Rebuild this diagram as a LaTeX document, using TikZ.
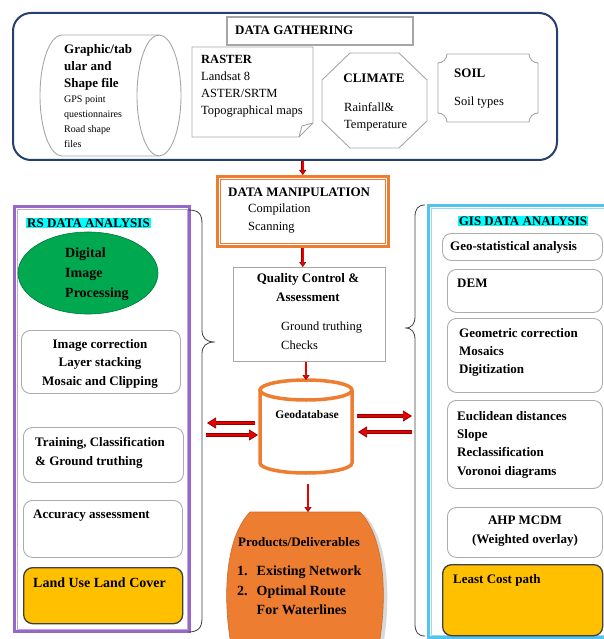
\documentclass[tikz,border=0pt]{standalone}
\usepackage{fontspec}
\setmainfont{Liberation Serif}
\usetikzlibrary{arrows.meta,shapes.geometric}

\definecolor{navy}{RGB}{38,62,112}
\definecolor{orng}{RGB}{237,125,49}
\definecolor{purp}{RGB}{150,105,200}
\definecolor{skyb}{RGB}{85,195,240}
\definecolor{grn}{RGB}{0,168,80}
\definecolor{gold}{RGB}{255,192,0}
\definecolor{hlcyan}{RGB}{0,255,255}
\definecolor{arrred}{RGB}{235,0,0}
\definecolor{arrdark}{RGB}{140,0,0}

\begin{document}
\begin{tikzpicture}[x=1pt, y=-1pt,
    txt/.style={inner sep=0pt, align=left, font=\fontsize{12.5}{17}\selectfont},
    btxt/.style={txt, font=\fontsize{13}{17}\selectfont\bfseries},
    rbox/.style={draw=gray!65, line width=0.9pt, rounded corners=9pt, anchor=north west, inner sep=0pt},
    goldbox/.style={rbox, draw=black!75, line width=1.3pt, fill=gold},
    shapeline/.style={draw=gray!70, line width=0.9pt},
    flowarr/.style={draw=arrdark, double=arrred, line width=0.5pt, double distance=1.6pt,
                    -{Triangle[length=5pt,width=7pt,fill=arrred]}},
    sidearr/.style={draw=arrdark, double=arrred, line width=0.7pt, double distance=2.6pt,
                    -{Triangle[length=9pt,width=11pt,fill=arrred]}},
    brace/.style={draw=gray!50!black, line width=0.8pt},
    hl/.style={fill=hlcyan, inner sep=1pt, font=\fontsize{13}{15}\selectfont\bfseries}]
\useasboundingbox (0,0) rectangle (603,639);

% data gathering
\node[draw=navy, line width=2pt, rounded corners=18pt, minimum width=544, minimum height=147,
      anchor=north west, inner sep=0pt] (gather) at (12,12) {};
\node[draw=gray!70, line width=1.8pt, minimum width=186, minimum height=28,
      anchor=north west, inner sep=0pt] (gtitle) at (226,16) {};
\node[btxt, anchor=west] (gtitlet) at (235,30) {DATA GATHERING};

\draw[shapeline] (159,35) -- (62,35) arc[start angle=270, end angle=90, x radius=22, y radius=60.5] -- (159,156);
\draw[shapeline] (159,95.5) ellipse[x radius=22, y radius=60.5];
\node[btxt, anchor=north west] (gtab) at (64,44) {Graphic/tab\\ular and\\Shape file};
\node[txt, anchor=north west, font=\fontsize{10}{15}\selectfont] (gps) at (64,96) {GPS point\\questionnaires\\Road shape\\files};

\draw[shapeline] (192,47) -- (313,47) -- (313,123) -- (299,137) -- (192,137) -- cycle;
\draw[shapeline] (313,123) -- (302,126) -- (299,137);
\node[txt, anchor=north west] (rastert) at (201,55) {\textbf{RASTER}\\Landsat 8\\ASTER/SRTM\\Topographical maps};

\draw[shapeline] (350,53) -- (399,53) -- (427,80) -- (427,121) -- (399,148) -- (350,148) -- (322,121) -- (322,80) -- cycle;
\node[btxt] (climt) at (374,78) {CLIMATE};
\node[txt, anchor=north west] (rain) at (344,102) {Rainfall\&\\Temperature};

\draw[shapeline] (447,54) -- (529,54) arc[start angle=180, end angle=90, radius=9]
  -- (538,113) arc[start angle=270, end angle=180, radius=9]
  -- (447,122) arc[start angle=0, end angle=-90, radius=9]
  -- (438,63) arc[start angle=90, end angle=0, radius=9];
\node[btxt, anchor=west] (soilt) at (454,73) {SOIL};
\node[txt, anchor=west] (soilty) at (454,103) {Soil types};

% centre column
\node[draw=orng, line width=2.5pt, minimum width=171, minimum height=70,
      anchor=north west, inner sep=0pt] (manip) at (216,175) {};
\draw[orng, line width=0.7pt] ([shift={(4.5,4.5)}]manip.north west) rectangle ([shift={(-4.5,-4.5)}]manip.south east);
\node[btxt, anchor=west] (manipt) at (228,192) {DATA MANIPULATION};
\node[txt, anchor=north west, font=\fontsize{12.5}{18}\selectfont] (comp) at (248,204) {Compilation\\Scanning};

\node[draw=gray!70, line width=0.9pt, minimum width=152, minimum height=94,
      anchor=north west, inner sep=0pt] (qual) at (233,267) {};
\node[btxt, align=center, anchor=north, font=\fontsize{13}{19}\selectfont\bfseries] (qualt) at (308,273) {Quality Control \&\\Assessment};
\node[txt, anchor=north west, font=\fontsize{12.5}{19}\selectfont] (gt) at (281,322) {Ground truthing\\Checks};

\draw[orng, line width=3.5pt, fill=white] (260,390) -- (260,463) arc[start angle=180, end angle=0, x radius=46, y radius=10] -- (352,390);
\draw[orng, line width=3.5pt, fill=white] (306,390) ellipse[x radius=46, y radius=10];
\coordinate (geotop) at (306,380);
\coordinate (geobot) at (306,473);
\node[btxt, font=\fontsize{11.5}{13}\selectfont\bfseries] (geot) at (307,415) {Geodatabase};

\fill[gray!30] (236,652) .. controls (226,600) and (229,540) .. (254,514) -- (364,514) .. controls (389,540) and (392,600) .. (382,652) -- cycle;
\draw[draw=orng!85!black, fill=orng, line width=0.6pt] (232,650) .. controls (222,598) and (225,538) .. (250,512) -- (360,512) .. controls (385,538) and (388,598) .. (378,650) -- cycle;
\coordinate (prodtop) at (308,512);
\node[btxt] (prodt) at (299,542) {Products/Deliverables};
\node[txt, anchor=north west, font=\fontsize{14}{19.5}\selectfont\bfseries] (prodl) at (237,566)
  {1.\hspace{9pt}Existing Network\\2.\hspace{9pt}Optimal Route\\\phantom{2.}\hspace{9pt}For Waterlines};

\draw[flowarr] (manip.north |- gather.south) -- (manip.north);
\draw[flowarr] (manip.south) -- (manip.south |- qual.north);
\draw[flowarr] (qual.south -| geotop) -- (geotop);
\draw[flowarr, shorten <=11pt] (geobot -| prodtop) -- (prodtop);

% rs analysis
\node[draw=purp, line width=3pt, minimum width=175, minimum height=425,
      anchor=north west, inner sep=0pt] (rsbox) at (13,205) {};
\draw[purp!60, line width=0.6pt] ([shift={(4,4)}]rsbox.north west) rectangle ([shift={(-4,-4)}]rsbox.south east);
\node[hl, anchor=west] (rst) at (26,223) {RS DATA ANALYSIS};
\node[ellipse, fill=grn, draw=grn!70!black, line width=0.6pt, minimum width=140, minimum height=82, inner sep=0pt] (dip) at (88,273) {};
\node[btxt, anchor=north west, font=\fontsize{14}{20}\selectfont\bfseries] (dipt) at (65,248) {Digital\\Image\\Processing};
\node[rbox, minimum width=159, minimum height=63] (imgc) at (21,330) {};
\node[btxt, align=center, anchor=north, font=\fontsize{13}{18.5}\selectfont\bfseries] (imgct) at (100,339) {Image correction\\Layer stacking\\Mosaic and Clipping};
\node[rbox, minimum width=160, minimum height=55] (train) at (23,427) {};
\node[btxt, anchor=north west, font=\fontsize{13}{19}\selectfont\bfseries] (traint) at (35,437) {Training, Classification\\\& Ground truthing};
\node[rbox, minimum width=159, minimum height=57] (acc) at (23,500) {};
\node[btxt, anchor=west] (acct) at (33,516) {Accuracy assessment};
\node[goldbox, minimum width=159, minimum height=56] (lulc) at (23,567) {};
\node[btxt, anchor=west, font=\fontsize{14}{16}\selectfont\bfseries] (lulct) at (33,583) {Land Use Land Cover};

\draw[brace] (188,210) .. controls (199,210) and (202,214) .. (202,224) -- (202,330)
  .. controls (202,338) and (206,342) .. (215,342) .. controls (206,342) and (202,346) .. (202,354)
  -- (202,618) .. controls (202,628) and (198,632) .. (188,632);

% gis analysis
\node[draw=skyb, line width=3pt, minimum width=185, minimum height=432,
      anchor=north west, inner sep=0pt] (gisbox) at (427,204) {};
\draw[skyb!60, line width=0.6pt] ([shift={(4,4)}]gisbox.north west) rectangle ([shift={(-4,-4)}]gisbox.south east);
\node[hl] (gist) at (523,221) {GIS DATA ANALYSIS};
\node[rbox, minimum width=160, minimum height=27] (geost) at (442,233) {};
\node[btxt, anchor=west] (geostt) at (450,247) {Geo-statistical analysis};
\node[rbox, minimum width=155, minimum height=43] (dem) at (447,269) {};
\node[btxt, anchor=west] (demt) at (457,283) {DEM};
\node[rbox, minimum width=155, minimum height=74] (geom) at (447,318) {};
\node[btxt, anchor=north west, font=\fontsize{13}{18}\selectfont\bfseries] (geomt) at (459,328) {Geometric correction\\Mosaics\\Digitization};
\node[rbox, minimum width=155, minimum height=88] (eucl) at (447,400) {};
\node[btxt, anchor=north west, font=\fontsize{13}{18.3}\selectfont\bfseries] (euclt) at (457,411) {Euclidean distances\\Slope\\Reclassification\\Voronoi diagrams};
\node[rbox, minimum width=155, minimum height=50] (ahp) at (447,507) {};
\node[btxt, align=center, anchor=north, font=\fontsize{13}{19}\selectfont\bfseries] (ahpt) at (525,516) {AHP MCDM\\(Weighted overlay)};
\node[goldbox, minimum width=160, minimum height=71] (lcp) at (442,564) {};
\node[btxt, anchor=west] (lcpt) at (453,580) {Least Cost path};

\draw[brace] (425,205) .. controls (418,205) and (415,209) .. (415,217) -- (415,316)
  .. controls (415,324) and (412,328) .. (405,328) .. controls (412,328) and (415,332) .. (415,340)
  -- (415,624) .. controls (415,632) and (418,636) .. (425,636);

% exchange arrows
\coordinate (la1) at (255,423); \coordinate (la2) at (207,423);
\coordinate (lb1) at (206,435); \coordinate (lb2) at (258,435);
\coordinate (ra1) at (357,416); \coordinate (ra2) at (412,416);
\coordinate (rb1) at (412,432); \coordinate (rb2) at (358,432);
\draw[sidearr] (la1) -- (la2);
\draw[sidearr] (lb1) -- (lb2);
\draw[sidearr] (ra1) -- (ra2);
\draw[sidearr] (rb1) -- (rb2);

\end{tikzpicture}
\end{document}
